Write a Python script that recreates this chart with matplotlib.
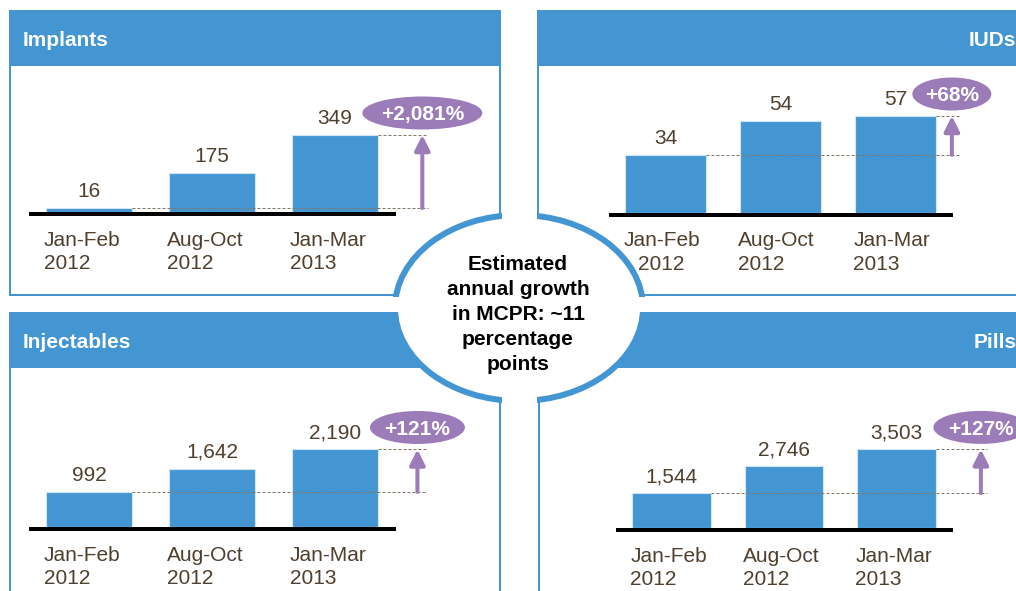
import matplotlib
matplotlib.use('Agg')
import matplotlib.pyplot as plt
from matplotlib.patches import Rectangle, Ellipse
import matplotlib.transforms as mtransforms

plt.rcParams['font.family'] = ['Liberation Sans', 'DejaVu Sans']

W, H = 1016, 591
DPI = 100
PX = 72 / DPI  # points per pixel

# ---------------- data ----------------
periods = ["Jan-Feb\n2012", "Aug-Oct\n2012", "Jan-Mar\n2013"]
methods = ["Implants", "IUDs", "Injectables", "Pills"]
implants = [16, 175, 349]
iuds = [34, 54, 57]
injectables = [992, 1642, 2190]
pills = [1544, 2746, 3503]
growth_labels = ["+2,081%", "+68%", "+121%", "+127%"]
center_text = ["Estimated", "annual growth", "in MCPR: ~11", "percentage", "points"]

series = [implants, iuds, injectables, pills]

# ---------------- style ----------------
BLUE = '#4396d2'
BAR_EDGE = '#d2e5f4'
PURPLE = '#9b7bb8'
TEXT_BROWN = '#4f3f2e'
DASH = '#857766'

fig = plt.figure(figsize=(W / DPI, H / DPI), dpi=DPI)
bg = fig.add_axes([0, 0, 1, 1], zorder=0)
bg.set_xlim(0, W); bg.set_ylim(H, 0); bg.axis('off')
top = fig.add_axes([0, 0, 1, 1], zorder=10)
top.set_xlim(0, W); top.set_ylim(H, 0); top.axis('off')

# panel frames (x, y, w, h) in pixels
panels = [(10, 11, 490, 284), (538, 11, 520, 284),
          (10, 313, 490, 320), (539, 313, 520, 320)]
titles_pos = [(23, 46.5), (969, 46.5), (23, 348), (974, 348)]
for (x, y, w, h), (tx, ty), name in zip(panels, titles_pos, methods):
    bg.add_patch(Rectangle((x, y), w, h, fc='white', ec=BLUE, lw=2 * PX, zorder=1))
    bg.add_patch(Rectangle((x, y), w, 54, fc=BLUE, ec=BLUE, lw=2 * PX, zorder=2))
    bg.text(tx, ty, name, ha='left', va='baseline', color='white',
            fontsize=15, fontweight='bold', zorder=3)

# central ellipse
bg.add_patch(Ellipse((519, 308), 248, 186, fc='white', ec=BLUE, lw=6 * PX, zorder=4))
bg.add_patch(Rectangle((501.5, 180), 35, 250, fc='white', ec='none', zorder=5))
bg.add_patch(Rectangle((370, 296.5), 300, 15, fc='white', ec='none', zorder=5))
for i, line in enumerate(center_text):
    bg.text(518, 270 + 25 * i, line, ha='center', va='baseline', color='black',
            fontsize=15, fontweight='bold', zorder=6)

# per-panel layout (pixels)
layout = [
    dict(c0=89, sp=123, base=211.5, ppu=0.2192, arrow=2.71, dash_end=2.76, bw=120, ma=['left'] * 3),
    dict(c0=665.5, sp=115, base=212.5, ppu=1.693, arrow=2.49, dash_end=2.55, bw=79, ma=['center', 'left', 'left']),
    dict(c0=89, sp=123, base=527, ppu=0.0354, arrow=2.67, dash_end=2.74, bw=95, ma=['left'] * 3),
    dict(c0=671.5, sp=112.5, base=527.5, ppu=0.0223, arrow=2.75, dash_end=2.80, bw=95, ma=['left'] * 3),
]
XL = (-0.7, 3.0)
AX_H = 160

for vals, lay, glabel in zip(series, layout, growth_labels):
    left = lay['c0'] + XL[0] * lay['sp']
    width = (XL[1] - XL[0]) * lay['sp']
    ax = fig.add_axes([left / W, (H - lay['base']) / H, width / W, AX_H / H], zorder=5)
    ax.set_xlim(*XL)
    ax.set_ylim(0, AX_H / lay['ppu'])
    ax.axis('off')
    xs = list(range(len(vals)))
    ax.bar(xs, vals, width=0.7, color=BLUE, edgecolor=BAR_EDGE, linewidth=0.8, zorder=2)
    # baseline
    ax.plot([-0.49, 2.5], [0, 0], color='black', lw=4 * PX, solid_capstyle='butt',
            transform=mtransforms.offset_copy(ax.transData, fig, y=-2, units='dots'),
            clip_on=False, zorder=3)
    # dashed reference lines
    ax.plot([xs[0] + 0.35, lay['dash_end']], [vals[0], vals[0]], ls=(0, (3, 2)),
            color=DASH, lw=1 * PX, clip_on=False, zorder=4)
    ax.plot([xs[-1] + 0.35, lay['dash_end']], [vals[-1], vals[-1]], ls=(0, (3, 2)),
            color=DASH, lw=1 * PX, clip_on=False, zorder=4)
    # growth arrow
    ax.annotate('', xy=(lay['arrow'], vals[-1]), xytext=(lay['arrow'], vals[0]),
                arrowprops=dict(arrowstyle='-|>', color=PURPLE, lw=4 * PX,
                                mutation_scale=23, shrinkA=0, shrinkB=0),
                annotation_clip=False, zorder=5)
    # value labels
    for xi, v in zip(xs, vals):
        ax.annotate(f"{v:,}", (xi, v), xytext=(0, 11 * PX), textcoords='offset points',
                    ha='center', va='baseline', fontsize=15, color=TEXT_BROWN,
                    annotation_clip=False)
    # category labels
    for xi, per, ma in zip(xs, periods, lay['ma']):
        ax.annotate(per, (xi - 0.35, 0), xytext=(-2 * PX, -19 * PX), textcoords='offset points',
                    ha='left', va='top', fontsize=15, color=TEXT_BROWN, linespacing=1.27,
                    multialignment=ma, annotation_clip=False)
    # growth badge
    disp = ax.transData.transform((lay['arrow'], vals[-1]))
    bx, by = top.transData.inverted().transform(disp)
    cy = by - 22
    top.add_patch(Ellipse((bx, cy), lay['bw'], 33, fc=PURPLE, ec='none', zorder=2))
    top.text(bx, cy + 7.5, glabel, ha='center', va='baseline', color='white',
             fontsize=15, fontweight='bold', zorder=3)

fig.savefig('out.png', dpi=DPI)
